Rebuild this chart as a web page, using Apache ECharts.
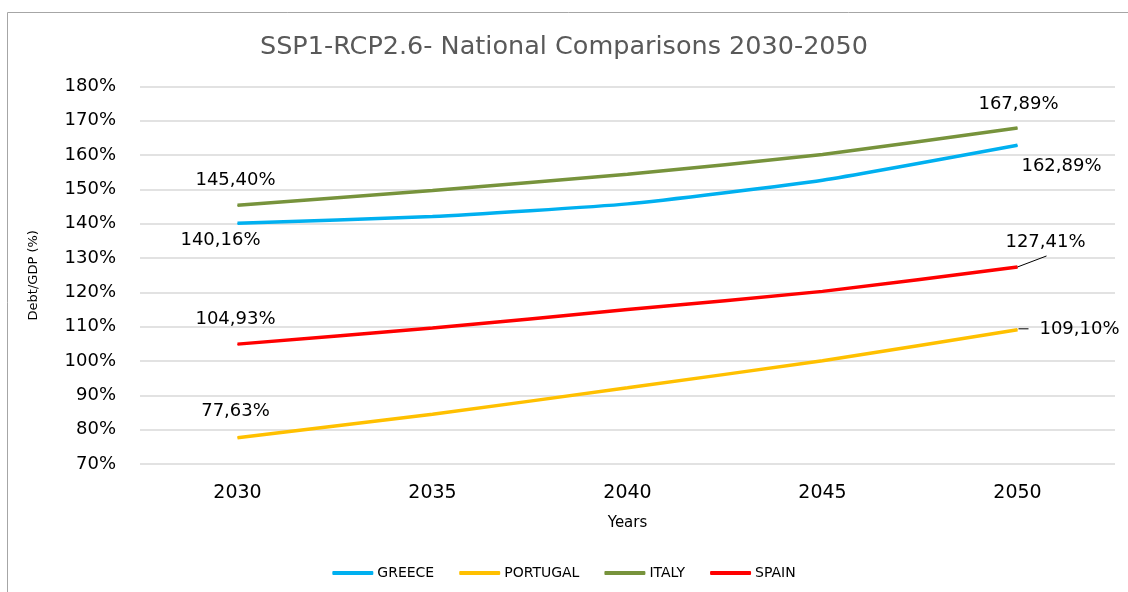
<!DOCTYPE html>
<html><head><meta charset="utf-8">
<script src="https://cdn.jsdelivr.net/npm/echarts@6/dist/echarts.min.js"></script>
<style>html,body{margin:0;padding:0;background:#fff}#c{width:1128px;height:592px}</style>
</head><body><div id="c"></div>
<script>
const years = ['2030','2035','2040','2045','2050'];
const greece = [140.16, 142.1, 145.8, 152.7, 162.89];
const portugal = [77.63, 84.5, 92.2, 100.1, 109.10];
const italy = [145.40, 149.7, 154.4, 160.2, 167.89];
const spain = [104.93, 109.6, 115.0, 120.3, 127.41];
const yTicks = [70, 80, 90, 100, 110, 120, 130, 140, 150, 160, 170, 180];

// label offsets in pixels (style only): [dx, dy]
const labelPos = {
  GREECE: {0: [-17, 17], 4: [44, 21]},
  PORTUGAL: {0: [-2, -26], 4: [62, 0]},
  ITALY: {0: [-2, -25], 4: [1, -24]},
  SPAIN: {0: [-2, -25], 4: [28, -25]}
};
// leader line segments relative to the point (style only)
const leaders = [
  {series: 'SPAIN', idx: 4, seg: [[0, 0], [29, -11]]},
  {series: 'PORTUGAL', idx: 4, seg: [[1, -1], [11, -1]]}
];
const fmt = v => v.toFixed(2).replace('.', ',') + '%';
const FF = 'DejaVu Sans';

function mk(name, data, color) {
  const pos = labelPos[name];
  return {
    name, type: 'line', data: data.map((v, i) => ({
      value: v,
      label: {show: i in pos}
    })),
    smooth: 0.15,
    symbol: 'circle', symbolSize: 1, showAllSymbol: true,
    itemStyle: {color}, lineStyle: {width: 3.5, color},
    label: {fontFamily: FF, fontSize: 18, color: '#000', formatter: p => fmt(p.value)},
    labelLayout: function (p) {
      const o = pos[p.dataIndex];
      if (!o) return {};
      const cx = p.rect.x + p.rect.width / 2, cy = p.rect.y + p.rect.height / 2;
      return {x: cx + o[0], y: cy + o[1], align: 'center', verticalAlign: 'middle'};
    },
    emphasis: {disabled: true}
  };
}

const seriesData = {GREECE: greece, PORTUGAL: portugal, ITALY: italy, SPAIN: spain};
const chart = echarts.init(document.getElementById('c'));
chart.setOption({
  animation: false,
  title: {text: 'SSP1-RCP2.6- National Comparisons 2030-2050', left: 'center', top: 29,
    textStyle: {fontFamily: FF, fontSize: 25.5, fontWeight: 'normal', color: '#595959'}},
  graphic: [{type: 'rect', shape: {x: 7.5, y: 12.5, width: 1140, height: 600}, style: {fill: null, stroke: '#a6a6a6', lineWidth: 1}, silent: true}],
  legend: {bottom: 7, left: 'center', itemWidth: 41, itemHeight: 4, itemGap: 25, icon: 'roundRect',
    textStyle: {fontFamily: FF, fontSize: 14, color: '#000', padding: [0, 0, 0, -1]},
    data: ['GREECE', 'PORTUGAL', 'ITALY', 'SPAIN']},
  grid: {left: 140, right: 13, top: 86.5, bottom: 128},
  xAxis: {type: 'category', data: years, boundaryGap: true, name: 'Years', nameLocation: 'middle', nameGap: 52,
    nameTextStyle: {fontFamily: FF, fontSize: 15, color: '#000'},
    axisLine: {show: false}, axisTick: {show: false},
    axisLabel: {fontFamily: FF, fontSize: 19, color: '#000', margin: 20}},
  yAxis: {type: 'value', min: yTicks[0], max: yTicks[yTicks.length - 1], interval: 10,
    name: 'Debt/GDP (%)', nameLocation: 'middle', nameGap: 100, nameRotate: 90,
    nameTextStyle: {fontFamily: FF, fontSize: 13, color: '#000'},
    axisLine: {show: false}, axisTick: {show: false},
    axisLabel: {fontFamily: FF, fontSize: 18, color: '#000', margin: 24, formatter: v => v + '%'},
    splitLine: {lineStyle: {color: '#d9d9d9', width: 1.5}}},
  series: [
    mk('GREECE', greece, '#00B0F0'),
    mk('PORTUGAL', portugal, '#FFC000'),
    mk('ITALY', italy, '#77933C'),
    mk('SPAIN', spain, '#FF0000')
  ]
});
// leader lines anchored to data points through the chart's own scales
const extra = leaders.map(l => {
  const p = chart.convertToPixel({xAxisIndex: 0, yAxisIndex: 0}, [years[l.idx], seriesData[l.series][l.idx]]);
  return {type: 'line', silent: true, z: 10,
    shape: {x1: p[0] + l.seg[0][0], y1: p[1] + l.seg[0][1], x2: p[0] + l.seg[1][0], y2: p[1] + l.seg[1][1]},
    style: {stroke: '#000', lineWidth: 1}};
});
chart.setOption({graphic: [{type: 'rect', shape: {x: 7.5, y: 12.5, width: 1140, height: 600}, style: {fill: null, stroke: '#a6a6a6', lineWidth: 1}, silent: true}].concat(extra)}, {replaceMerge: ['graphic']});
</script></body></html>
